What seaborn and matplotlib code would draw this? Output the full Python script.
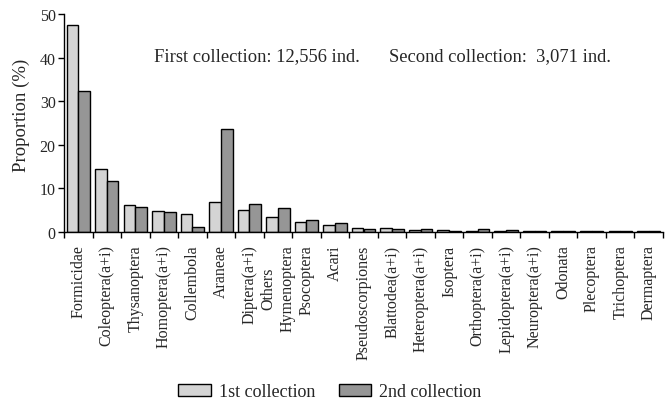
import matplotlib
matplotlib.use("Agg")
import matplotlib.pyplot as plt
import seaborn as sns
import pandas as pd
import numpy as np

categories = ["Formicidae", "Coleoptera(a+i)", "Thysanoptera", "Homoptera(a+i)",
              "Collembola", "Araneae", "Diptera(a+i)", "Others\nHymenoptera",
              "Psocoptera", "Acari", "Pseudoscorpiones", "Blattodea(a+i)",
              "Heteroptera(a+i)", "Isoptera", "Orthoptera(a+i)", "Lepidoptera(a+i)",
              "Neuroptera(a+i)", "Odonata", "Plecoptera", "Trichoptera", "Dermaptera"]
first = [47.5, 14.4, 6.1, 4.8, 4.1, 6.8, 5.0, 3.4, 2.3, 1.7, 1.0, 0.9,
         0.5, 0.35, 0.3, 0.3, 0.2, 0.15, 0.15, 0.15, 0.15]
second = [32.3, 11.6, 5.8, 4.6, 1.1, 23.6, 6.4, 5.6, 2.8, 2.1, 0.6, 0.8,
          0.75, 0.3, 0.75, 0.55, 0.2, 0.15, 0.15, 0.15, 0.15]
series = ["1st collection", "2nd collection"]
yticks = [0, 10, 20, 30, 40, 50]

df = pd.DataFrame({
    "Group": categories * 2,
    "Value": first + second,
    "Series": [series[0]] * len(categories) + [series[1]] * len(categories),
})

sns.set_theme(style="white")
plt.rcParams["font.family"] = ["Liberation Serif", "DejaVu Serif"]
plt.rcParams["font.size"] = 11

fig = plt.figure(figsize=(6.67, 4.10), dpi=100)
ax = fig.add_axes([64 / 667, 1 - 233 / 410, 599 / 667, 218 / 410])

palette = {series[0]: "#d4d4d4", series[1]: "#969696"}
sns.barplot(data=df, x="Group", y="Value", hue="Series", order=categories,
            hue_order=series, palette=palette, width=0.82, edgecolor="black",
            linewidth=1.0, saturation=1, ax=ax, legend=True)

ax.set_xlim(-0.5, len(categories) - 0.5)
ax.set_ylim(0, 50)
ax.set_yticks(yticks)
ax.set_yticklabels([str(t) for t in yticks], fontsize=11.5)
ax.tick_params(axis="y", direction="out", length=4, width=1, color="black", left=True, pad=2)

# major ticks at group boundaries, labels on minor ticks at centres
ax.set_xticks(np.arange(-0.5, len(categories), 1.0))
ax.set_xticklabels([])
ax.set_xticks(np.arange(len(categories)), minor=True)
ax.set_xticklabels(categories, minor=True, rotation=90, fontsize=11.5,
                   va="top", ha="center", multialignment="center")
ax.tick_params(axis="x", which="major", direction="out", length=4, width=1,
               color="black", bottom=True)
ax.tick_params(axis="x", which="minor", length=0, pad=9)
ax.set_xlabel("")
ax.set_ylabel("Proportion (%)", fontsize=13.5)
ax.yaxis.set_label_coords(-0.057, 0.539)

for s in ["top", "right"]:
    ax.spines[s].set_visible(False)
for s in ["left", "bottom"]:
    ax.spines[s].set_color("black")
    ax.spines[s].set_linewidth(1)

ax.text(0.322, 0.81, "First collection: 12,556 ind.", transform=ax.transAxes,
        ha="center", va="center", fontsize=13.3)
ax.text(0.728, 0.81, "Second collection:  3,071 ind.", transform=ax.transAxes,
        ha="center", va="center", fontsize=13.3)

leg = ax.legend(loc="center", bbox_to_anchor=(330 / 667, 1 - 393 / 410),
                bbox_transform=fig.transFigure, ncol=2, frameon=False,
                fontsize=13, handlelength=1.8, handleheight=0.6,
                columnspacing=1.3, handletextpad=0.45)
for h in leg.legend_handles:
    h.set_edgecolor("black")
    h.set_linewidth(1)

fig.savefig("out.png", dpi=100)
